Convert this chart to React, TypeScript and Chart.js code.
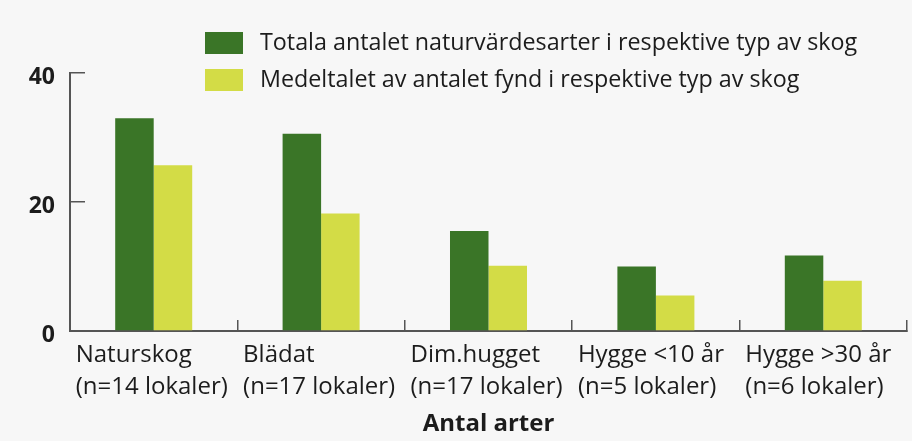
import React, { useEffect, useRef } from "react";
import { Chart, registerables } from "chart.js";

Chart.register(...registerables);

const categories: string[][] = [
  ["Naturskog", "(n=14 lokaler)"],
  ["Blädat", "(n=17 lokaler)"],
  ["Dim.hugget", "(n=17 lokaler)"],
  ["Hygge <10 år", "(n=5 lokaler)"],
  ["Hygge >30 år", "(n=6 lokaler)"],
];
const totalSpecies = [33, 30.6, 15.5, 10, 11.7];
const meanFinds = [25.7, 18.2, 10.1, 5.5, 7.8];
const seriesNames = [
  "Totala antalet naturvärdesarter i respektive typ av skog",
  "Medeltalet av antalet fynd i respektive typ av skog",
];
const yMin = 0;
const yMax = 40;
const yStep = 20;
const axisTitle = "Antal arter";

const DARK = "#3a7527";
const LIGHT = "#d3dc46";
const FONT = "'Open Sans', Lato, sans-serif";
const TEXT = "#1c1c1c";

const legendPlugin = {
  id: "customLegend",
  afterDraw(chart: any) {
    const ctx = chart.ctx;
    ctx.save();
    chart.data.datasets.forEach((ds: any, i: number) => {
      const bx = 205;
      const by = 32 + i * 37;
      ctx.fillStyle = ds.backgroundColor;
      ctx.fillRect(bx, by, 38, 22);
      ctx.fillStyle = TEXT;
      ctx.font = `23.3px ${FONT}`;
      ctx.textBaseline = "middle";
      ctx.textAlign = "left";
      ctx.fillText(ds.label, 260, by + 11);
    });
    ctx.restore();
  },
};

export default function App() {
  const ref = useRef<HTMLCanvasElement | null>(null);

  useEffect(() => {
    document.body.style.margin = "0";
    const canvas = ref.current;
    if (!canvas) return;
    const chart = new Chart(canvas, {
      type: "bar",
      data: {
        labels: categories,
        datasets: [
          {
            label: seriesNames[0],
            data: totalSpecies,
            backgroundColor: DARK,
            categoryPercentage: 0.46,
            barPercentage: 1,
          },
          {
            label: seriesNames[1],
            data: meanFinds,
            backgroundColor: LIGHT,
            categoryPercentage: 0.46,
            barPercentage: 1,
          },
        ],
      },
      options: {
        responsive: false,
        animation: false,
        devicePixelRatio: 1,
        layout: { padding: { top: 73, right: 5, left: 0, bottom: 0 } },
        plugins: {
          legend: { display: false },
          tooltip: { enabled: false },
        },
        scales: {
          x: {
            offset: true,
            grid: {
              offset: true,
              drawOnChartArea: false,
              drawTicks: true,
              tickLength: -11,
              color: "#555",
              lineWidth: 1.5,
            },
            border: { display: true, color: "#555", width: 2 },
            ticks: {
              align: "start",
              labelOffset: -78,
              padding: 19,
              color: TEXT,
              font: { family: FONT, size: 24, lineHeight: 1.35 },
              maxRotation: 0,
              autoSkip: false,
            },
            title: {
              display: true,
              text: axisTitle,
              color: TEXT,
              font: { family: FONT, size: 24, weight: "bold", lineHeight: 1.2 },
              padding: { top: 0, bottom: 2 },
            },
            afterFit: (scale: any) => {
              scale.paddingLeft = 0;
              scale.paddingRight = 0;
              scale.height = 110;
            },
          },
          y: {
            min: yMin,
            max: yMax,
            ticks: {
              stepSize: yStep,
              padding: 30,
              labelOffset: 4,
              color: TEXT,
              font: { family: FONT, size: 23, weight: "bold" },
            },
            grid: {
              drawOnChartArea: false,
              drawTicks: true,
              tickLength: -15,
              color: "#555",
              lineWidth: 1.5,
            },
            border: { display: true, color: "#555", width: 2 },
            afterFit: (scale: any) => {
              scale.width = 70;
            },
          },
        },
      },
      plugins: [legendPlugin],
    } as any);
    return () => chart.destroy();
  }, []);

  return (
    <div
      style={{
        position: "absolute",
        left: 0,
        top: 0,
        width: 912,
        height: 441,
        background: "#f7f7f7",
      }}
    >
      <canvas ref={ref} width={912} height={441} />
    </div>
  );
}
